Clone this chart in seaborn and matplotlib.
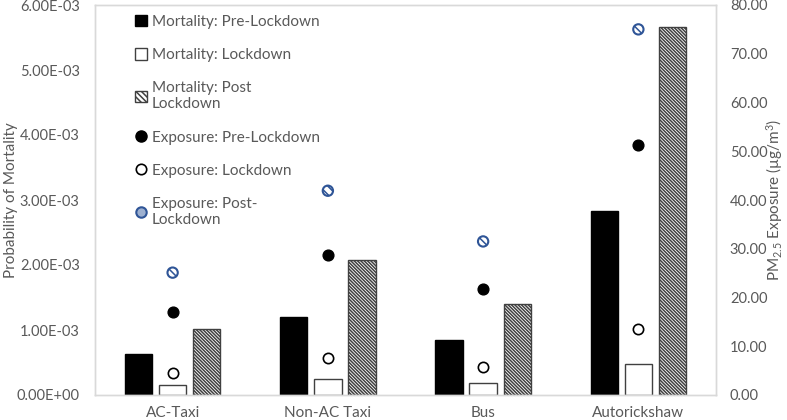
import numpy as np
import pandas as pd
import matplotlib
matplotlib.use("Agg")
import matplotlib.pyplot as plt
import seaborn as sns
from matplotlib.patches import Patch
from matplotlib.lines import Line2D
from matplotlib.ticker import FuncFormatter, MultipleLocator

#  Data
modes = ["AC-Taxi", "Non-AC Taxi", "Bus", "Autorickshaw"]
periods = ["Pre-Lockdown", "Lockdown", "Post Lockdown"]
mort_pre = [0.63e-3, 1.205e-3, 0.84e-3, 2.835e-3]
mort_lock = [0.15e-3, 0.25e-3, 0.19e-3, 0.48e-3]
mort_post = [1.015e-3, 2.08e-3, 1.395e-3, 5.665e-3]
exp_pre = [17.1, 28.7, 21.8, 51.3]
exp_lock = [4.5, 7.5, 5.8, 13.5]
exp_post = [25.1, 41.9, 31.5, 75.0]

df = pd.DataFrame({
    "Mode": modes * 3,
    "Period": [p for p in periods for _ in modes],
    "Mortality": mort_pre + mort_lock + mort_post,
})

sns.set_theme(style="white")
plt.rcParams["font.family"] = ["Lato", "DejaVu Sans"]
plt.rcParams["mathtext.fontset"] = "custom"
plt.rcParams["mathtext.rm"] = "Lato"
plt.rcParams["mathtext.it"] = "Lato:italic"
plt.rcParams["hatch.linewidth"] = 1.1
TXT = "#595959"
EDGE = "#404040"
BLUE = "#2F5597"

fig = plt.figure(figsize=(7.87, 4.20), dpi=100)
ax = fig.add_axes([95 / 787, 25 / 420, 621 / 787, 390 / 420])

sns.barplot(data=df, x="Mode", y="Mortality", hue="Period", order=modes,
            hue_order=periods, width=0.66, gap=0.2, legend=False, ax=ax,
            palette=["black", "white", "white"], saturation=1)

for bar in ax.containers[0]:
    bar.set_edgecolor("black")
for bar in ax.containers[1]:
    bar.set_edgecolor(EDGE)
    bar.set_linewidth(1.0)
for bar in ax.containers[2]:
    bar.set_edgecolor(EDGE)
    bar.set_hatch("\\" * 10)
    bar.set_linewidth(1.0)

ax.set_xlim(-0.5, 3.5)
ax.set_ylim(0, 6e-3)
ax.yaxis.set_major_locator(MultipleLocator(1e-3))
ax.yaxis.set_major_formatter(FuncFormatter(lambda v, p: f"{v:.2E}"))
ax.set_xlabel("")
ax.set_ylabel("Probability of Mortality", color=TXT, fontsize=11)
ax.yaxis.set_label_coords(-77 / 621, 0.5)
ax.tick_params(axis="y", length=0, pad=11, labelsize=10.5, labelcolor=TXT)
ax.tick_params(axis="x", length=0, pad=8, labelsize=11, labelcolor=TXT)
for s in ax.spines.values():
    s.set_color("#D9D9D9")
    s.set_linewidth(1.0)

#  Exposure on the secondary axis
ax2 = ax.twinx()
xpos = np.arange(len(modes))
sns.scatterplot(x=xpos, y=exp_pre, ax=ax2, color="black", s=60,
                marker="o", edgecolor="black", linewidth=1, zorder=3)
sns.scatterplot(x=xpos, y=exp_lock, ax=ax2, color="white", s=55,
                marker="o", edgecolor="black", linewidth=1.2, zorder=3)
sns.scatterplot(x=xpos, y=exp_post, ax=ax2, color="white", s=55,
                marker="o", edgecolor=BLUE, linewidth=1.5, zorder=3)
ax2.collections[-1].set_hatch("\\\\\\\\")
ax2.set_xlim(-0.5, 3.5)
ax2.set_ylim(0, 80)
ax2.yaxis.set_major_locator(MultipleLocator(10))
ax2.yaxis.set_major_formatter(FuncFormatter(lambda v, p: f"{v:.2f}"))
ax2.set_ylabel(r"PM$_{2.5}$ Exposure (µg/m$^3$)", color=TXT, fontsize=11,
               rotation=90)
ax2.yaxis.set_label_coords(1 + 48 / 621, 0.5)
ax2.tick_params(axis="y", length=0, pad=10, labelsize=10.5, labelcolor=TXT)
for s in ax2.spines.values():
    s.set_color("#D9D9D9")
    s.set_linewidth(1.0)

#  Legend
handles = [
    Patch(facecolor="black", edgecolor="black"),
    Patch(facecolor="white", edgecolor=EDGE),
    Patch(facecolor="white", edgecolor=EDGE, hatch="\\" * 6),
    Line2D([], [], linestyle="none", marker="o", markersize=8,
           markerfacecolor="black", markeredgecolor="black"),
    Line2D([], [], linestyle="none", marker="o", markersize=7.5,
           markerfacecolor="white", markeredgecolor="black", markeredgewidth=1.2),
    Line2D([], [], linestyle="none", marker="o", markersize=7.5,
           markerfacecolor="#9DB0D0", markeredgecolor=BLUE, markeredgewidth=1.5),
]
labels = ["Mortality: Pre-Lockdown", "Mortality: Lockdown",
          "Mortality: Post\nLockdown", "Exposure: Pre-Lockdown",
          "Exposure: Lockdown", "Exposure: Post-\nLockdown"]
leg = ax2.legend(handles, labels, loc="upper left",
                 bbox_to_anchor=(124 / 787, 1 - 4 / 420),
                 bbox_transform=fig.transFigure, frameon=False, fontsize=11,
                 handlelength=0.8, handleheight=0.8, handletextpad=0.3,
                 labelspacing=1.25, borderpad=0.2)
for t in leg.get_texts():
    t.set_color(TXT)

fig.savefig("out.png", dpi=100)
